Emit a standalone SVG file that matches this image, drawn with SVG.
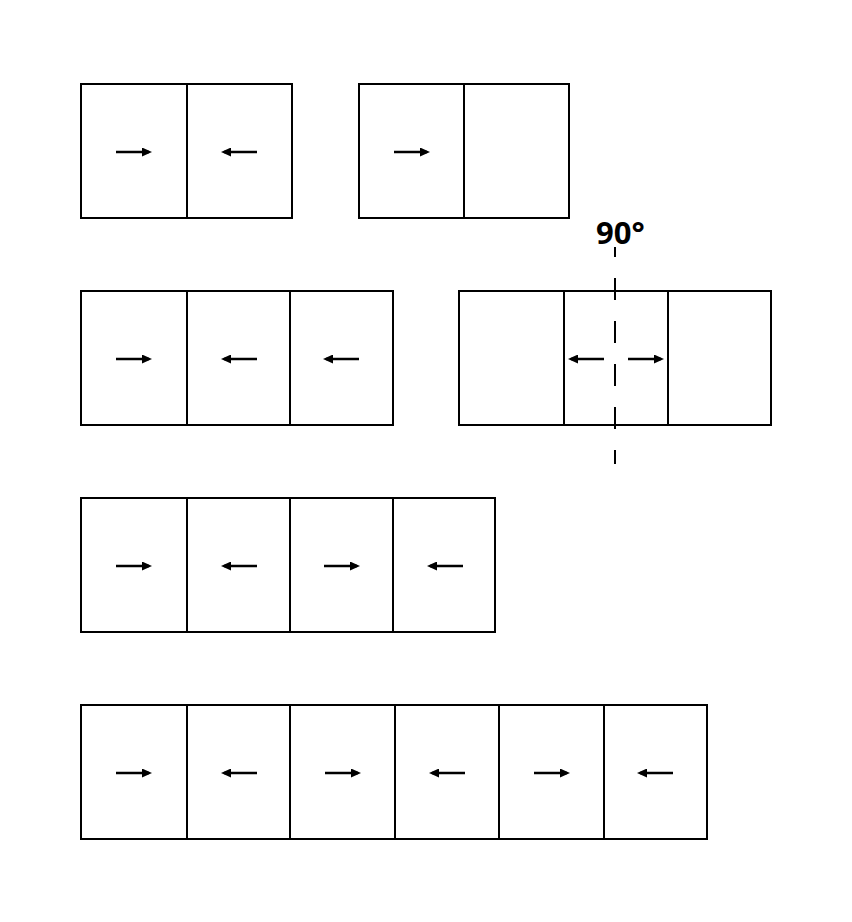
<svg xmlns="http://www.w3.org/2000/svg" width="852" height="922" viewBox="0 0 852 922">
<defs>
<style>
.cell{fill:#fff;stroke:#000;stroke-width:2}
.arr{stroke:#000;stroke-width:2.4;fill:none;marker-end:url(#ah)}
.axis{stroke:#000;stroke-width:2;stroke-dasharray:22 21;stroke-dashoffset:12}
.lbl{font-family:"Open Sans","Noto Sans","DejaVu Sans",sans-serif;font-weight:bold;font-size:31px;fill:#000}
</style>
<marker id="ah" viewBox="0 0 10 9" refX="7" refY="4.5" markerWidth="10" markerHeight="9" markerUnits="userSpaceOnUse" orient="auto">
<path d="M0,0 L10,4.5 L0,9 z" fill="#000"/>
</marker>
</defs>
<rect width="852" height="922" fill="#fff"/>
<g id="panel-1a">
<rect class="cell" x="81" y="84" width="106" height="134"/>
<rect class="cell" x="187" y="84" width="105" height="134"/>
</g>
<g id="panel-1b">
<rect class="cell" x="359" y="84" width="105" height="134"/>
<rect class="cell" x="464" y="84" width="105" height="134"/>
</g>
<g id="panel-2a">
<rect class="cell" x="81" y="291" width="106" height="134"/>
<rect class="cell" x="187" y="291" width="103" height="134"/>
<rect class="cell" x="290" y="291" width="103" height="134"/>
</g>
<g id="panel-2b">
<rect class="cell" x="459" y="291" width="105" height="134"/>
<rect class="cell" x="564" y="291" width="104" height="134"/>
<rect class="cell" x="668" y="291" width="103" height="134"/>
</g>
<g id="panel-3">
<rect class="cell" x="81" y="498" width="106" height="134"/>
<rect class="cell" x="187" y="498" width="103" height="134"/>
<rect class="cell" x="290" y="498" width="103" height="134"/>
<rect class="cell" x="393" y="498" width="102" height="134"/>
</g>
<g id="panel-4">
<rect class="cell" x="81" y="705" width="106" height="134"/>
<rect class="cell" x="187" y="705" width="103" height="134"/>
<rect class="cell" x="290" y="705" width="105" height="134"/>
<rect class="cell" x="395" y="705" width="104" height="134"/>
<rect class="cell" x="499" y="705" width="105" height="134"/>
<rect class="cell" x="604" y="705" width="103" height="134"/>
</g>
<g id="axis">
<line class="axis" x1="615" y1="247" x2="615" y2="464"/>
<text class="lbl" x="596" y="244">90°</text>
</g>
<g id="connectors">
<line class="arr" x1="116" y1="152" x2="149" y2="152"/>
<line class="arr" x1="257" y1="152" x2="224" y2="152"/>
<line class="arr" x1="394" y1="152" x2="427" y2="152"/>

<line class="arr" x1="116" y1="359" x2="149" y2="359"/>
<line class="arr" x1="257" y1="359" x2="224" y2="359"/>
<line class="arr" x1="359" y1="359" x2="326" y2="359"/>
<line class="arr" x1="604" y1="359" x2="571" y2="359"/>
<line class="arr" x1="628" y1="359" x2="661" y2="359"/>

<line class="arr" x1="116" y1="566" x2="149" y2="566"/>
<line class="arr" x1="257" y1="566" x2="224" y2="566"/>
<line class="arr" x1="324" y1="566" x2="357" y2="566"/>
<line class="arr" x1="463" y1="566" x2="430" y2="566"/>

<line class="arr" x1="116" y1="773" x2="149" y2="773"/>
<line class="arr" x1="257" y1="773" x2="224" y2="773"/>
<line class="arr" x1="325" y1="773" x2="358" y2="773"/>
<line class="arr" x1="465" y1="773" x2="432" y2="773"/>
<line class="arr" x1="534" y1="773" x2="567" y2="773"/>
<line class="arr" x1="673" y1="773" x2="640" y2="773"/>
</g>
</svg>
